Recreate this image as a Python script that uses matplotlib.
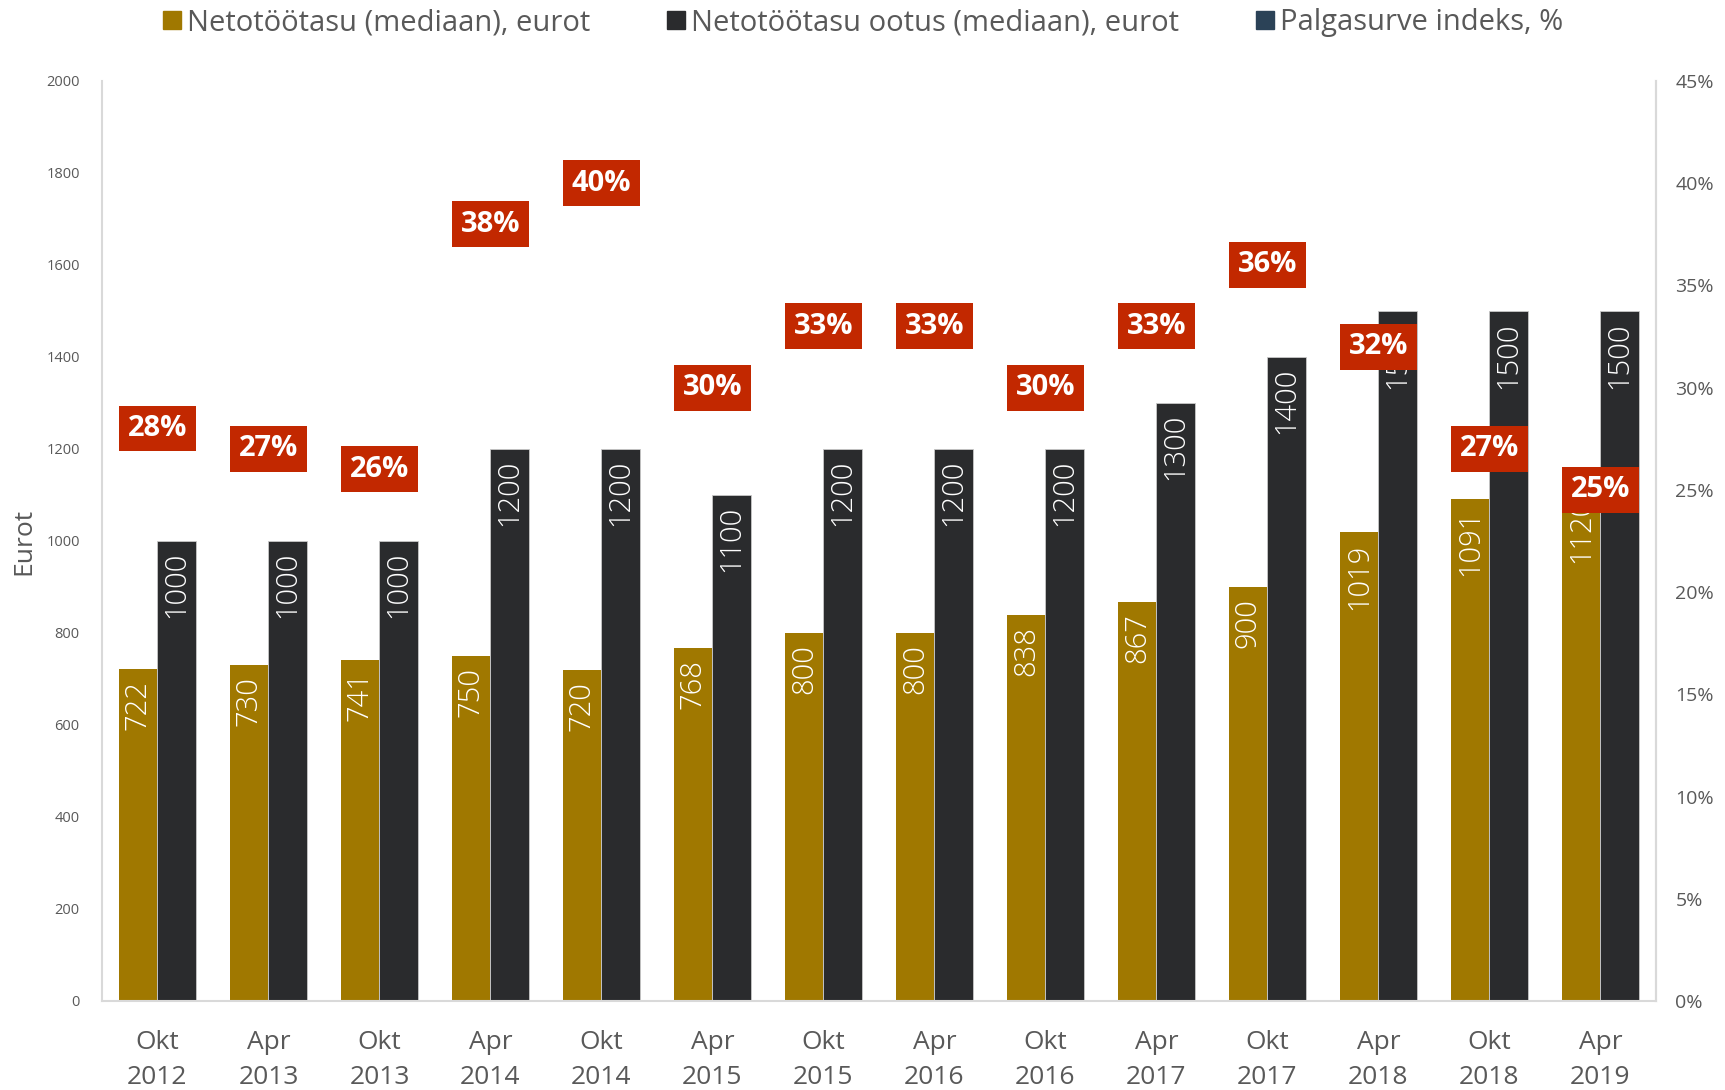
import matplotlib
matplotlib.use("Agg")
import matplotlib.pyplot as plt
from matplotlib.lines import Line2D

plt.rcParams['font.family'] = ['Open Sans', 'DejaVu Sans']

categories = ["Okt\n2012", "Apr\n2013", "Okt\n2013", "Apr\n2014", "Okt\n2014", "Apr\n2015", "Okt\n2015",
              "Apr\n2016", "Okt\n2016", "Apr\n2017", "Okt\n2017", "Apr\n2018", "Okt\n2018", "Apr\n2019"]
netotootasu = [722, 730, 741, 750, 720, 768, 800, 800, 838, 867, 900, 1019, 1091, 1120]
ootus = [1000, 1000, 1000, 1200, 1200, 1100, 1200, 1200, 1200, 1300, 1400, 1500, 1500, 1500]
indeks = [28, 27, 26, 38, 40, 30, 33, 33, 30, 33, 36, 32, 27, 25]

GOLD = "#A07800"
DARK = "#2A2B2D"
RED = "#C22800"
NAVY = "#2B4257"
GREY = "#595959"

fig = plt.figure(figsize=(17.25, 10.9), dpi=100)
ax = fig.add_axes([0.0591, 0.0817, 0.9009, 0.844])
x = list(range(len(categories)))
w = 0.35
b1 = ax.bar([i - w/2 for i in x], netotootasu, width=w, color=GOLD, zorder=2)
b2 = ax.bar([i + w/2 for i in x], ootus, width=w, color=DARK, edgecolor="#c8c8c8", linewidth=0.6, zorder=2)

for rects, vals in ((b1, netotootasu), (b2, ootus)):
    for r, v in zip(rects, vals):
        ax.annotate(str(v), (r.get_x() + r.get_width()/2, v), xytext=(0, -8), textcoords="offset points",
                    rotation=90, ha="center", va="top", color="white", fontsize=21, fontweight="light", zorder=3)

ax.set_xlim(-0.5, len(categories) - 0.5)
ax.set_ylim(0, 2000)
ax.set_yticks(range(0, 2001, 200))
ax.set_xticks(x)
ax.set_xticklabels(categories, fontsize=19, color=GREY, linespacing=1.5)
ax.tick_params(axis="y", labelsize=10.5, colors=GREY, length=0, pad=16)
ax.tick_params(axis="x", length=0, pad=21)
ax.set_ylabel("Eurot", fontsize=19, color=GREY)
ax.yaxis.set_label_coords(-0.0425, 0.5)
ax.spines["top"].set_visible(False)
for s in ("left", "right", "bottom"):
    ax.spines[s].set_color("#D9D9D9")
    ax.spines[s].set_linewidth(1.5)

ax2 = ax.twinx()
ax2.set_ylim(0, 45)
ax2.set_yticks(range(0, 46, 5))
ax2.set_yticklabels([f"{t}%" for t in range(0, 46, 5)])
ax2.tick_params(axis="y", labelsize=14, colors=GREY, length=0, pad=14)
for s in ("top", "left", "bottom"):
    ax2.spines[s].set_visible(False)
ax2.spines["right"].set_color("#D9D9D9")
ax2.spines["right"].set_linewidth(1.5)
for i, v in zip(x, indeks):
    ax2.text(i, v, f"{v}%", ha="center", va="center", color="white", fontsize=21, fontweight="bold", zorder=5,
             bbox=dict(boxstyle="square,pad=0.29", facecolor=RED, edgecolor="none"))

handles = [Line2D([], [], linestyle="none", marker="s", markersize=13, color=c) for c in (GOLD, DARK, NAVY)]
labels = ["Netotöötasu (mediaan), eurot", "Netotöötasu ootus (mediaan), eurot", "Palgasurve indeks, %"]
leg = fig.legend(handles, labels, loc="center", bbox_to_anchor=(0.5, 0.979), ncol=3, frameon=False,
                 fontsize=21, handletextpad=0.15, columnspacing=2.6, handlelength=0.7)
for t in leg.get_texts():
    t.set_color(GREY)

fig.savefig("out.png", dpi=100)
